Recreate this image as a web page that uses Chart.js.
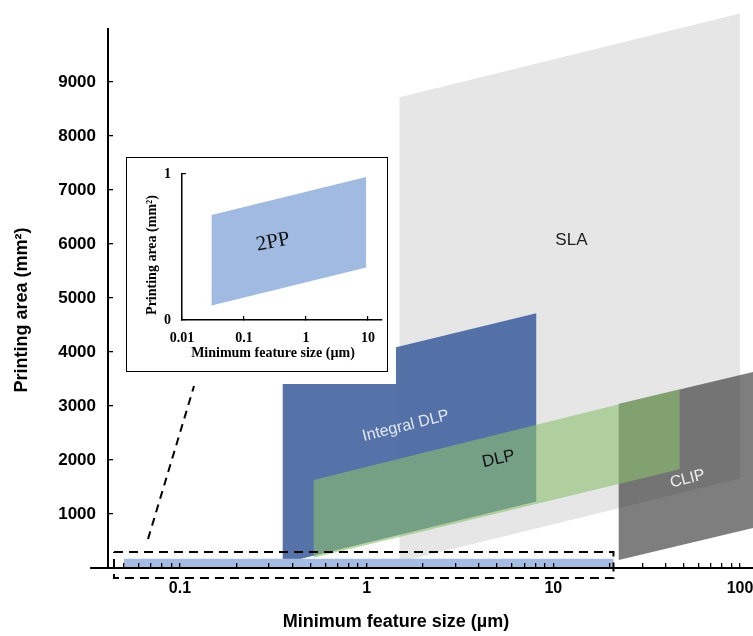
<!DOCTYPE html>
<html>
<head>
<meta charset="utf-8">
<script src="https://cdn.jsdelivr.net/npm/chart.js@4.4.1/dist/chart.umd.min.js"></script>
<style>
html,body{margin:0;padding:0;background:#fff;}
#wrap{position:relative;width:753px;height:636px;overflow:hidden;}
#main{position:absolute;left:0;top:0;}
#insetCover{position:absolute;left:118px;top:150px;width:278px;height:234px;background:#fff;}
#insetBox{position:absolute;left:126px;top:157px;width:260px;height:213px;border:1px solid #000;background:#fff;}
#inset{display:block;}
</style>
</head>
<body>
<div id="wrap">
  <canvas id="main" width="753" height="636"></canvas>
  <div id="insetCover"></div>
  <div id="insetBox"><canvas id="inset" width="260" height="213"></canvas></div>
</div>
<script>
// ---------------- data ----------------
const categories = ['SLA', 'Integral DLP', 'DLP', 'CLIP', '2PP'];
// x: minimum feature size range (µm); top/bottom: printing area (mm²) at left / right end
const slaX = [1.5, 100];
const slaTop = [8720, 10270];
const slaBottom = [110, 1660];
const intDlpX = [0.355, 8.1];
const intDlpTop = [3580, 4720];
const intDlpBottom = [90, 1230];
const dlpX = [0.52, 47.5];
const dlpTop = [1630, 3310];
const dlpBottom = [190, 1830];
const clipX = [22.4, 117.4];
const clipTop = [3040, 3630];
const clipBottom = [150, 740];
const ppX = [0.05, 21];
const ppTop = [170, 170];
const ppBottom = [0, 0];
// inset (2PP, zoomed in)
const insetPpX = [0.03, 9.3];
const insetPpTop = [0.72, 0.98];
const insetPpBottom = [0.10, 0.36];
// zoom box and leader line
const zoomBoxX = [0.0443, 21];
const zoomBoxY = [-185, 296];
const leaderX = [0.0674, 0.1189];
const leaderY = [537, 3370];
// tick labels
const xTickLabels = ['0.1', '1', '10', '100'];
const yTickLabels = ['1000', '2000', '3000', '4000', '5000', '6000', '7000', '8000', '9000'];
const insetXTickLabels = ['0.01', '0.1', '1', '10'];
const insetYTickLabels = ['0', '1'];

// ---------------- helpers ----------------
function quad(xs, top, bottom) {
  return [
    {x: xs[0], y: bottom[0]}, {x: xs[0], y: top[0]},
    {x: xs[1], y: top[1]}, {x: xs[1], y: bottom[1]},
    {x: xs[0], y: bottom[0]}
  ];
}
function rect(xs, ys) {
  return [
    {x: xs[0], y: ys[1]}, {x: xs[1], y: ys[1]},
    {x: xs[1], y: ys[0]}, {x: xs[0], y: ys[0]}, {x: xs[0], y: ys[1]}
  ];
}
function logLabel(list, v) {
  return list.find(s => Math.abs(Math.log10(+s) - Math.log10(v)) < 1e-6) || '';
}
function linLabel(list, v) {
  return list.find(s => Math.abs(+s - v) < 1e-6) || '';
}
function isBound(axis, v) {
  return Math.abs(v - axis.min) < 1e-9 * Math.max(1, Math.abs(axis.min)) ||
         Math.abs(v - axis.max) < 1e-9 * Math.max(1, Math.abs(axis.max));
}
function keepDecadeSteps(axis) {
  axis.ticks = axis.ticks.filter(t => {
    const v = t.value;
    if (isBound(axis, v)) return true;
    const m = v / Math.pow(10, Math.floor(Math.log10(v) + 1e-9));
    return Math.abs(m - Math.round(m)) < 1e-6;
  });
}
function keepPowers(axis) {
  axis.ticks = axis.ticks.filter(t => {
    const l = Math.log10(t.value);
    return Math.abs(l - Math.round(l)) < 1e-9;
  });
}
function ticksFrom(list) {
  return axis => { axis.ticks = list.map(s => ({value: +s})); };
}
function noPadding(s) {
  s.paddingTop = 0; s.paddingBottom = 0; s.paddingLeft = 0; s.paddingRight = 0;
}
function polyDs(label, data, color, order) {
  return {label, data, showLine: true, fill: 'shape', backgroundColor: color,
          borderColor: 'rgba(0,0,0,0)', borderWidth: 0, pointRadius: 0, tension: 0, order};
}
function lineDs(label, data, width, dash, order) {
  return {label, data, showLine: true, fill: false, borderColor: '#000', borderWidth: width,
          borderDash: dash, pointRadius: 0, tension: 0, order, clip: false};
}

const textPlugin = {
  id: 'texts',
  afterDatasetsDraw(chart, args, opts) {
    const ctx = chart.ctx;
    const sx = chart.scales.x, sy = chart.scales.y;
    for (const t of opts.items || []) {
      const px = t.px !== undefined ? t.px : sx.getPixelForValue(t.x);
      const py = t.py !== undefined ? t.py : sy.getPixelForValue(t.y);
      ctx.save();
      ctx.translate(px, py);
      ctx.rotate((t.rot || 0) * Math.PI / 180);
      ctx.font = t.font;
      ctx.fillStyle = t.color;
      ctx.textAlign = 'center';
      ctx.textBaseline = 'middle';
      ctx.fillText(t.text, 0, 0);
      ctx.restore();
    }
  }
};

// ---------------- main chart ----------------
const X_MIN = 0.04115, X_MAX = 117.4, Y_MAX = 10280;
const X_AXIS_LEFT = 0.033;
const SANS = '"Liberation Sans", Arial, sans-serif';

new Chart(document.getElementById('main'), {
  type: 'scatter',
  data: {
    datasets: [
      polyDs(categories[0], quad(slaX, slaTop, slaBottom), 'rgb(230,230,230)', 10),
      polyDs(categories[1], quad(intDlpX, intDlpTop, intDlpBottom), 'rgba(70,102,162,0.92)', 9),
      polyDs(categories[3], quad(clipX, clipTop, clipBottom), 'rgba(40,40,40,0.6)', 8),
      polyDs(categories[2], quad(dlpX, dlpTop, dlpBottom), 'rgba(140,192,110,0.6)', 7),
      polyDs(categories[4], quad(ppX, ppTop, ppBottom), 'rgb(164,188,226)', 6),
      lineDs('zoom box', rect(zoomBoxX, zoomBoxY), 2, [9, 6], 5),
      lineDs('leader', [{x: leaderX[0], y: leaderY[0]}, {x: leaderX[1], y: leaderY[1]}], 2, [8, 6], 4),
      lineDs('y axis', [{x: X_MIN, y: 0}, {x: X_MIN, y: 10000}], 2, [], 1),
      lineDs('x axis ext', [{x: X_AXIS_LEFT, y: 0}, {x: X_MIN, y: 0}], 2, [], 1)
    ]
  },
  options: {
    responsive: false,
    animation: false,
    events: [],
    layout: {padding: {top: 13, right: 0, left: 0, bottom: 0}},
    plugins: {
      legend: {display: false},
      tooltip: {enabled: false},
      texts: {items: [
        {text: 'SLA', x: 12.5, y: 6070, rot: 0, font: '17px ' + SANS, color: '#222'},
        {text: 'Integral DLP', x: 1.62, y: 2630, rot: -14, font: '16px ' + SANS, color: '#e2e7f2'},
        {text: 'DLP', x: 5.09, y: 2019, rot: -13, font: '17px ' + SANS, color: '#111'},
        {text: 'CLIP', x: 52.4, y: 1648, rot: -14, font: '16px ' + SANS, color: '#eeeeee'},
        {text: 'Printing area (mm²)', px: 22, py: 310, rot: -90, font: 'bold 18px ' + SANS, color: '#000'},
        {text: 'Minimum feature size (µm)', px: 396, py: 622, rot: 0, font: 'bold 18px ' + SANS, color: '#000'}
      ]}
    },
    scales: {
      x: {
        type: 'logarithmic', min: X_MIN, max: X_MAX,
        afterBuildTicks: keepDecadeSteps,
        afterFit: s => { s.height = 68; noPadding(s); },
        grid: {drawOnChartArea: false, drawTicks: true, tickLength: -5, lineWidth: 1.3, z: 1,
               color: c => (c.tick && !isBound(c.scale, c.tick.value)) ? '#000' : 'rgba(0,0,0,0)'},
        border: {display: true, color: '#000', width: 2, z: 1},
        ticks: {
          autoSkip: false, maxRotation: 0, minRotation: 0, padding: 16, color: '#000', z: 1,
          font: {family: SANS, size: 16, weight: 'bold'},
          callback: v => logLabel(xTickLabels, v)
        }
      },
      y: {
        type: 'linear', min: 0, max: Y_MAX,
        afterBuildTicks: ticksFrom(yTickLabels),
        afterFit: s => { s.width = 108; noPadding(s); },
        grid: {drawOnChartArea: false, drawTicks: true, tickLength: -5, lineWidth: 1.3, z: 1, color: '#000'},
        border: {display: false},
        ticks: {
          autoSkip: false, padding: 17, color: '#000', z: 1,
          font: {family: SANS, size: 17, weight: 'bold'},
          callback: v => linLabel(yTickLabels, v)
        }
      }
    }
  },
  plugins: [textPlugin]
});

// ---------------- inset chart ----------------
const SERIF = '"Liberation Serif", "Times New Roman", serif';
new Chart(document.getElementById('inset'), {
  type: 'scatter',
  data: {
    datasets: [
      polyDs(categories[4], quad(insetPpX, insetPpTop, insetPpBottom), 'rgb(160,186,226)', 1)
    ]
  },
  options: {
    responsive: false,
    animation: false,
    events: [],
    layout: {padding: {top: 16, right: 5, left: 0, bottom: 0}},
    plugins: {
      legend: {display: false},
      tooltip: {enabled: false},
      texts: {items: [
        {text: '2PP', x: 0.294, y: 0.534, rot: -11, font: '21px ' + SERIF, color: '#111'},
        {text: 'Printing area (mm²)', px: 25, py: 97, rot: -90, font: 'bold 14px ' + SERIF, color: '#000'},
        {text: 'Minimum feature size (µm)', px: 146, py: 195, rot: 0, font: 'bold 14px ' + SERIF, color: '#000'}
      ]}
    },
    scales: {
      x: {
        type: 'logarithmic', min: 0.01, max: 16.8,
        afterBuildTicks: keepPowers,
        afterFit: s => { s.height = 51; noPadding(s); },
        grid: {drawOnChartArea: false, drawTicks: true, tickLength: -4, color: '#000', lineWidth: 1.2, z: 1},
        border: {display: true, color: '#000', width: 1.5, z: 1},
        ticks: {
          autoSkip: false, maxRotation: 0, minRotation: 0, padding: 14, color: '#000',
          font: {family: SERIF, size: 14, weight: 'bold'},
          callback: v => logLabel(insetXTickLabels, v)
        }
      },
      y: {
        type: 'linear', min: 0, max: 1,
        afterBuildTicks: ticksFrom(insetYTickLabels),
        afterFit: s => { s.width = 55; noPadding(s); },
        grid: {drawOnChartArea: false, drawTicks: true, tickLength: -4, color: '#000', lineWidth: 1.2, z: 1},
        border: {display: true, color: '#000', width: 1.5, z: 1},
        ticks: {
          padding: 15, color: '#000',
          font: {family: SERIF, size: 14, weight: 'bold'},
          callback: v => linLabel(insetYTickLabels, v)
        }
      }
    }
  },
  plugins: [textPlugin]
});
</script>
</body>
</html>
